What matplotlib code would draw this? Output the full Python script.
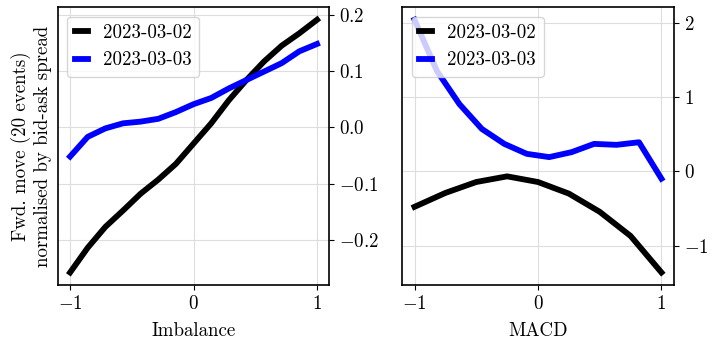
import numpy as np
import matplotlib
matplotlib.use("Agg")
import matplotlib.pyplot as plt

plt.rcParams['font.family'] = ['cmr10', 'DejaVu Serif']
plt.rcParams['mathtext.fontset'] = 'cm'
plt.rcParams['axes.formatter.use_mathtext'] = True
plt.rcParams['font.size'] = 13.6

# donnees
labels = ['2023-03-02', '2023-03-03']
colors = ['black', 'blue']

imb_x = np.linspace(-1, 1, 15)
imb_0302 = [-0.258, -0.214, -0.177, -0.148, -0.118, -0.093, -0.065, -0.029,
            0.007, 0.048, 0.084, 0.117, 0.145, 0.167, 0.191]
imb_0303 = [-0.052, -0.017, -0.002, 0.007, 0.010, 0.015, 0.027, 0.041,
            0.052, 0.069, 0.084, 0.099, 0.114, 0.135, 0.148]

macd_x_0302 = np.linspace(-1, 1, 9)
macd_0302 = [-0.477, -0.290, -0.143, -0.067, -0.143, -0.299, -0.544, -0.869, -1.36]
macd_x_0303 = np.linspace(-1, 1, 12)
macd_0303 = [2.04, 1.35, 0.905, 0.571, 0.370, 0.236, 0.192, 0.259, 0.370, 0.357, 0.392, -0.098]

fig, (ax1, ax2) = plt.subplots(1, 2, figsize=(7.13, 3.39), dpi=100)
fig.subplots_adjust(left=0.081, right=0.945, top=0.979, bottom=0.159, wspace=0.268)

ax1.plot(imb_x, imb_0302, color=colors[0], lw=4.2, label=labels[0])
ax1.plot(imb_x, imb_0303, color=colors[1], lw=4.2, label=labels[1])
ax1.set_xlabel('Imbalance', labelpad=7)
ax1.set_ylabel('Fwd. move (20 events)\nnormalised by bid-ask spread')

ax2.plot(macd_x_0302, macd_0302, color=colors[0], lw=4.2, label=labels[0])
ax2.plot(macd_x_0303, macd_0303, color=colors[1], lw=4.2, label=labels[1])
ax2.set_xlabel('MACD', labelpad=7)

for ax in (ax1, ax2):
    ax.yaxis.tick_right()
    ax.set_xticks([-1, 0, 1])
    ax.grid(True, color='#dddddd', lw=0.8)
    ax.set_axisbelow(True)
    ax.legend(loc='upper left', handlelength=0.7, handletextpad=0.8)
    for s in ax.spines.values():
        s.set_linewidth(1.2)

ax1.set_yticks([-0.2, -0.1, 0.0, 0.1, 0.2])
ax2.set_yticks([-1, 0, 1, 2])

plt.savefig('out.png', dpi=100)
